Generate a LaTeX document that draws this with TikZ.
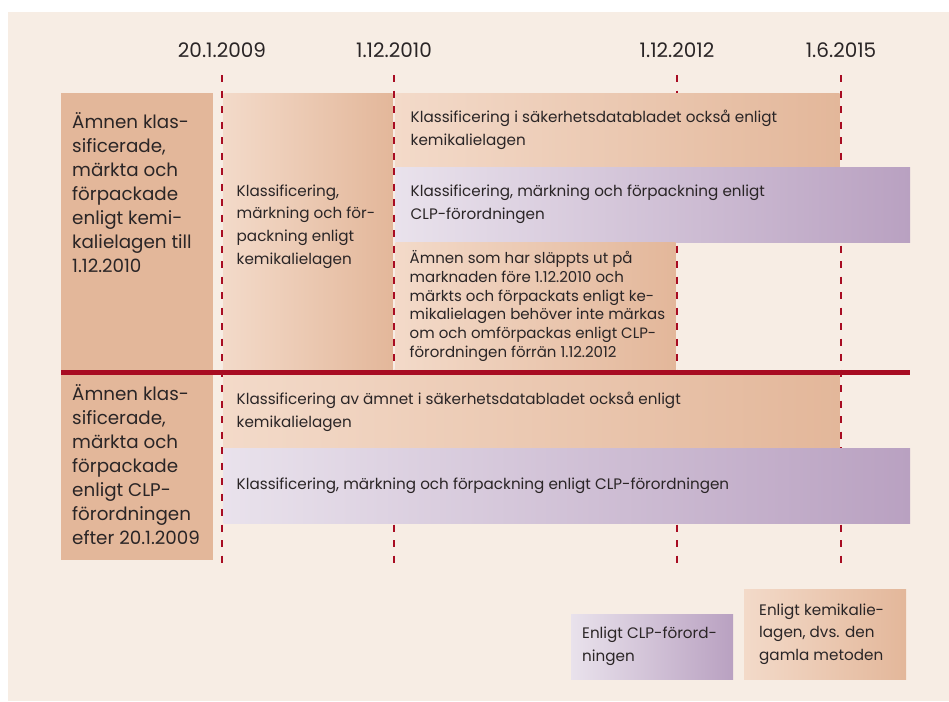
\documentclass[tikz,border=0pt]{standalone}
\usepackage{fontspec}
\setmainfont{Poppins}
\usepackage{tikz}
\usetikzlibrary{positioning}

\definecolor{bakgrund}{HTML}{F7EDE4}
\definecolor{kemimork}{HTML}{E3B79A}
\definecolor{kemiljus}{HTML}{F3DAC9}
\definecolor{clpmork}{HTML}{B9A1C1}
\definecolor{clpljus}{HTML}{E9E2EC}
\definecolor{datumrod}{HTML}{A80C22}
\definecolor{texten}{HTML}{2A2526}

\begin{document}
\begin{tikzpicture}[x=1pt, y=-1pt,
    ruta/.style={anchor=north west, inner sep=0pt, outer sep=0pt},
    kemi/.style={ruta, left color=kemiljus, right color=kemimork},
    clp/.style={ruta, left color=clpljus, right color=clpmork},
    vanster/.style={ruta, fill=kemimork},
    smatext/.style={anchor=west, inner sep=0pt, align=left, text=texten,
        font=\fontsize{15.2}{22.7}\selectfont},
    tattext/.style={smatext, font=\fontsize{15}{18.7}\selectfont},
    stortext/.style={anchor=north west, inner sep=0pt, align=left, text=texten,
        font=\fontsize{18.3}{24}\selectfont},
    datum/.style={anchor=base, inner sep=0pt, text=texten,
        font=\fontsize{20}{24}\selectfont},
    tidslinje/.style={datumrod, line width=2.2pt, dash pattern=on 7pt off 8.5pt}]
	\useasboundingbox (0,0) rectangle (949,701);
	\fill[bakgrund] (8,12) rectangle (949,701);

	% datum och streckade linjer
	\coordinate (topp) at (0,75);
	\coordinate (botten) at (0,563);
	\foreach \x/\d/\n in {222/20.1.2009/a, 394/1.12.2010/b, 677/1.12.2012/c, 841/1.6.2015/d}{
		\node[datum] (dat\n) at (\x,58) {\d};
		\draw[tidslinje] (dat\n |- topp) -- (dat\n |- botten);
	}

	% fore 1.12.2010
	\node[vanster, minimum width=152pt, minimum height=277pt] (vA) at (61,93) {};
	\node[kemi, minimum width=169pt, minimum height=277pt] (kemiA) at (223.5,93) {};
	\node[kemi, minimum width=444pt, minimum height=74pt] (kemiB) at (395.5,93) {};
	\node[clp, minimum width=514.5pt, minimum height=75pt] (clpA) at (395.5,167) {};
	\node[kemi, minimum width=280pt, minimum height=128pt] (kemiC) at (395.5,242) {};

	\node[stortext] (tvA) at ([xshift=11pt, yshift=-19pt]vA.north west)
		{Ämnen klas-\\sificerade,\\märkta och\\förpackade\\enligt kemi-\\kalielagen till\\1.12.2010};
	\node[smatext] (tA) at ([xshift=13pt, yshift=5pt]kemiA.west)
		{Klassificering,\\märkning och för-\\packning enligt\\kemikalielagen};
	\node[smatext] (tB) at ([xshift=15pt]kemiB.west)
		{Klassificering i säkerhetsdatabladet också enligt\\kemikalielagen};
	\node[smatext] (tC) at ([xshift=15pt]clpA.west)
		{Klassificering, märkning och förpackning enligt\\CLP-förordningen};
	\node[tattext] (tD) at ([xshift=14pt]kemiC.west)
		{Ämnen som har släppts ut på\\marknaden före 1.12.2010 och\\märkts och förpackats enligt ke-\\mikalielagen behöver inte märkas\\om och omförpackas enligt CLP-\\förordningen förrän 1.12.2012};

	% efter 20.1.2009
	\node[vanster, minimum width=152pt, minimum height=185pt] (vB) at (61,375) {};
	\node[kemi, minimum width=616pt, minimum height=73pt] (kemiD) at (223.5,375) {};
	\node[clp, minimum width=686.5pt, minimum height=75pt] (clpB) at (223.5,448) {};

	\node[stortext] (tvB) at ([xshift=11pt, yshift=-9pt]vB.north west)
		{Ämnen klas-\\sificerade,\\märkta och\\förpackade\\enligt CLP-\\förordningen\\efter 20.1.2009};
	\node[smatext] (tE) at ([xshift=13pt]kemiD.west)
		{Klassificering av ämnet i säkerhetsdatabladet också enligt\\kemikalielagen};
	\node[smatext] (tF) at ([xshift=13pt]clpB.west)
		{Klassificering, märkning och förpackning enligt CLP-förordningen};

	\draw[datumrod, line width=5pt] (vA.south west) ++(0,2.5) -- (910,372.5);

	% teckenforklaring
	\node[clp, minimum width=162pt, minimum height=65pt] (clpL) at (571,614) {};
	\node[kemi, minimum width=162pt, minimum height=90pt] (kemiL) at (744,589) {};
	\node[smatext] (tL1) at ([xshift=11pt]clpL.west) {Enligt CLP-förord-\\ningen};
	\node[smatext] (tL2) at ([xshift=15pt]kemiL.west) {Enligt kemikalie-\\lagen, dvs. den\\gamla metoden};
\end{tikzpicture}
\end{document}
